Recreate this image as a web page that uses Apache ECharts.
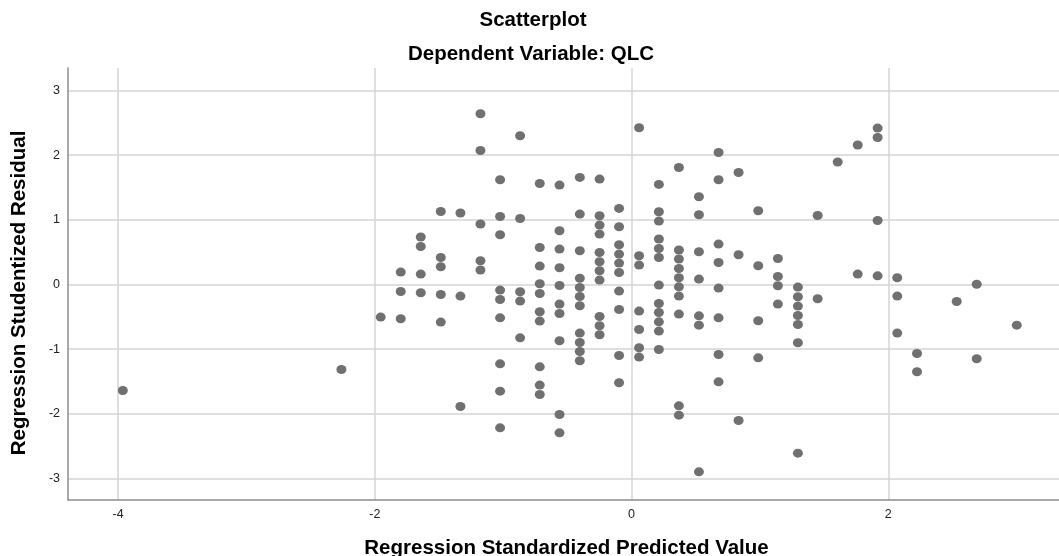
<!DOCTYPE html>
<html>
<head>
<meta charset="utf-8">
<script src="https://cdn.jsdelivr.net/npm/echarts@6/dist/echarts.min.js"></script>
<style>
html,body{margin:0;padding:0;background:#fff;overflow:hidden;}
#chart{width:1059px;height:556px;}
</style>
</head>
<body>
<div id="chart"></div>
<script>
// Predicted value columns (x) and the studentized residuals found at each (y)
const predicted = [-3.963,-2.260,-1.954,-1.798,-1.642,-1.486,-1.333,-1.177,-1.024,-0.868,-0.715,-0.561,-0.403,-0.249,-0.097,0.059,0.213,0.369,0.525,0.678,0.834,0.987,1.140,1.296,1.450,1.606,1.762,1.917,2.070,2.224,2.533,2.689,3.001];
const residuals = [
  [-1.638],
  [-1.314],
  [-0.504],
  [0.192,-0.108,-0.530],
  [0.733,0.587,0.161,-0.128],
  [1.128,0.417,0.274,-0.155,-0.581],
  [1.104,-0.179,-1.886],
  [2.638,2.071,0.934,0.366,0.223],
  [1.618,1.051,0.768,-0.087,-0.232,-0.515,-1.226,-1.648,-2.215],
  [2.298,1.020,-0.113,-0.257,-0.824],
  [1.561,0.572,0.284,0.011,-0.139,-0.422,-0.566,-1.272,-1.555,-1.700],
  [1.536,0.830,0.547,0.258,-0.015,-0.303,-0.448,-0.870,-2.009,-2.292],
  [1.654,1.088,0.521,0.096,-0.046,-0.185,-0.329,-0.751,-0.896,-1.036,-1.179],
  [1.629,1.062,0.918,0.779,0.495,0.351,0.212,0.068,-0.495,-0.638,-0.777],
  [1.175,0.892,0.614,0.470,0.331,0.185,-0.102,-0.386,-1.097,-1.519],
  [2.422,0.444,0.300,-0.411,-0.696,-0.978,-1.122],
  [1.546,1.124,0.980,0.702,0.556,0.417,-0.009,-0.294,-0.433,-0.577,-0.720,-1.005],
  [1.808,0.532,0.393,0.247,0.104,-0.036,-0.179,-0.457,-1.875,-2.019],
  [1.355,1.077,0.505,0.083,-0.484,-0.628,-2.895],
  [2.040,1.618,0.624,0.340,-0.056,-0.515,-1.082,-1.504],
  [1.731,0.459,-2.102],
  [1.139,0.289,-0.561,-1.133],
  [0.402,0.124,-0.020,-0.303],
  [-0.040,-0.190,-0.334,-0.479,-0.618,-0.901,-2.606],
  [1.066,-0.221],
  [1.892],
  [2.155,0.161],
  [2.417,2.272,0.989,0.134],
  [0.104,-0.179,-0.751],
  [-1.066,-1.349],
  [-0.263],
  [0.003,-1.148],
  [-0.628]
];
const xTicks = [-4,-2,0,2];
const yTicks = [-3,-2,-1,0,1,2,3];
const titleText = 'Scatterplot';
const subtitleText = 'Dependent Variable: QLC';
const xName = 'Regression Standardized Predicted Value';
const yName = 'Regression Studentized Residual';

const points = [];
predicted.forEach((x, i) => residuals[i].forEach(y => points.push([x, y])));

const font = '"Liberation Sans", Arial, sans-serif';
const chart = echarts.init(document.getElementById('chart'), null, {width: 1059, height: 556});
chart.setOption({
  animation: false,
  backgroundColor: '#ffffff',
  title: [
    {text: titleText, left: 528, top: 5, textAlign: 'center',
     textStyle: {fontFamily: font, fontSize: 20.5, fontWeight: 'bold', color: '#000'}},
    {text: subtitleText, left: 526, top: 39, textAlign: 'center',
     textStyle: {fontFamily: font, fontSize: 20.5, fontWeight: 'bold', color: '#000'}}
  ],
  grid: {left: 68, width: 991, top: 68, height: 432, containLabel: false, outerBoundsMode: 'none'},
  xAxis: {
    type: 'value', min: -4.39, max: 3.33,
    name: xName, nameLocation: 'middle', nameGap: 38,
    nameTextStyle: {fontFamily: font, fontSize: 20.5, fontWeight: 'bold', color: '#000', padding: [0,0,0,6]},
    axisLine: {show: true, onZero: false, lineStyle: {color: '#8c8c8c', width: 1.5}},
    axisTick: {show: false, customValues: xTicks},
    axisLabel: {customValues: xTicks, fontFamily: font, fontSize: 12.5, color: '#222', margin: 8},
    splitLine: {show: true, lineStyle: {color: '#d4d4d4', width: 1.5}}
  },
  yAxis: {
    type: 'value', min: -3.33, max: 3.345,
    name: yName, nameLocation: 'middle', nameGap: 38,
    nameTextStyle: {fontFamily: font, fontSize: 20.5, fontWeight: 'bold', color: '#000', padding: [0,0,0,-18]},
    axisLine: {show: true, onZero: false, lineStyle: {color: '#8c8c8c', width: 1.5}},
    axisTick: {show: false, customValues: yTicks},
    axisLabel: {customValues: yTicks, fontFamily: font, fontSize: 12.5, color: '#222', margin: 8},
    splitLine: {show: true, lineStyle: {color: '#d4d4d4', width: 1.5}}
  },
  series: [{
    type: 'scatter',
    data: points,
    symbol: 'circle',
    symbolSize: [10, 9],
    itemStyle: {color: '#707070', opacity: 1},
    emphasis: {disabled: true}
  }]
});
</script>
</body>
</html>
